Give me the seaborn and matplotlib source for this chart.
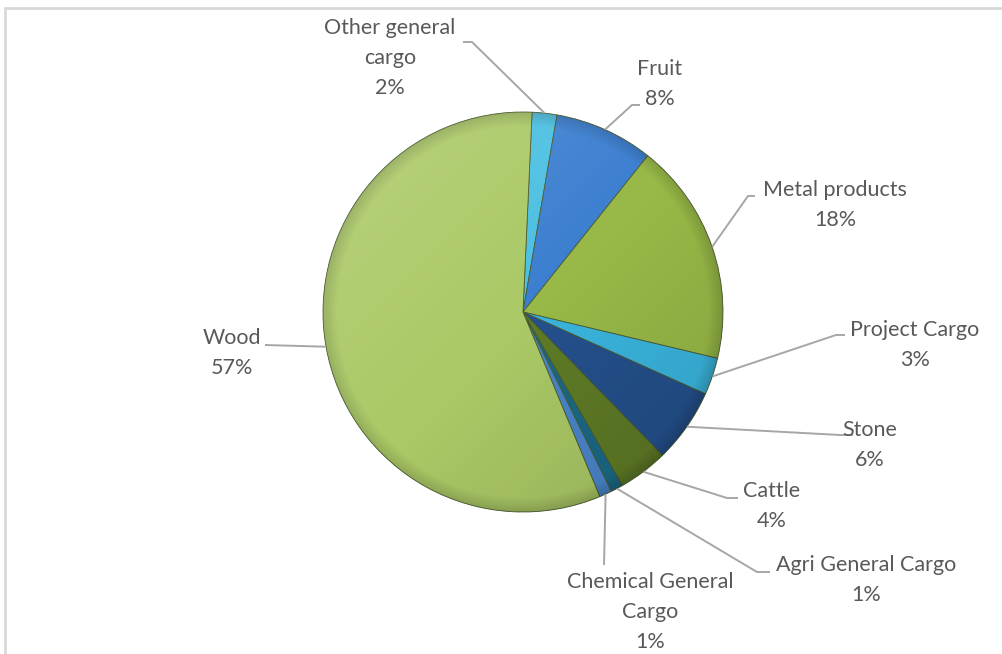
import numpy as np
import matplotlib
matplotlib.use("Agg")
import matplotlib.pyplot as plt
from matplotlib.patches import Circle
import seaborn as sns

# Cargo mix by commodity, in percent, listed clockwise from 12 o'clock
categories = ["Other general cargo", "Fruit", "Metal products", "Project Cargo", "Stone",
              "Cattle", "Agri General Cargo", "Chemical General Cargo", "Wood"]
shares = [2, 8, 18, 3, 6, 4, 1, 1, 57]
label_texts = ["Other general\ncargo", "Fruit", "Metal products", "Project Cargo", "Stone",
               "Cattle", "Agri General Cargo", "Chemical General\nCargo", "Wood"]

colors = ["#4cc0e2", "#3c7fd0", "#98b947", "#3ab5de", "#24508c",
          "#5f7b26", "#1b6a86", "#4a86cc", "#abc966"]

sns.set_theme(style="white")
plt.rcParams["font.family"] = ["Lato", "DejaVu Sans"]

W, H = 1003, 654
fig = plt.figure(figsize=(W / 100, H / 100), dpi=100)
ax = fig.add_axes([0, 0, 1, 1])

cx, cy, r = 523, H - 312, 200
start = 90 - 2.6

wedges, _ = ax.pie(shares, colors=colors, startangle=start, counterclock=False,
                   center=(cx, cy), radius=r,
                   wedgeprops=dict(edgecolor="#4a5a30", linewidth=0.6))

# soft lighting across the pie body
n = 400
yy, xx = np.mgrid[1:-1:n * 1j, -1:1:n * 1j]
t = (xx - yy) / 2.0
rr = np.hypot(xx, yy)
img = np.zeros((n, n, 4))
light = np.clip(-t, 0, 1) * 0.16
dark = np.clip(t, 0, 1) * 0.14 + np.clip((rr - 0.93) / 0.07, 0, 1) * 0.14
img[..., :3] = (light / np.maximum(light + dark, 1e-6))[..., None]
img[..., 3] = np.clip(light + dark, 0, 1)
im = ax.imshow(img, extent=(cx - r, cx + r, cy - r, cy + r), zorder=3,
               interpolation="bilinear")
im.set_clip_path(Circle((cx, cy), r, transform=ax.transData))

# label layout: text block centre, leader elbow and end (top-down pixels)
layout = {
    "Other general cargo":    dict(text=(390, 58), elbow=(472, 42), end=(463, 42)),
    "Fruit":                  dict(text=(660, 84), elbow=(632, 105), end=(640, 105)),
    "Metal products":         dict(text=(835, 205), elbow=(748, 196), end=(755, 196)),
    "Project Cargo":          dict(text=(915, 345), elbow=(836, 335), end=(845, 335)),
    "Stone":                  dict(text=(870, 445), elbow=(840, 435), end=(853, 435)),
    "Cattle":                 dict(text=(772, 506), elbow=(727, 498), end=(738, 498)),
    "Agri General Cargo":     dict(text=(866, 580), elbow=(757, 572), end=(770, 572)),
    "Chemical General Cargo": dict(text=(650, 612), elbow=(604, 565), end=(604, 565)),
    "Wood":                   dict(text=(232, 353), elbow=(265, 345), end=(265, 345)),
}

total = float(sum(shares))
cum = 0.0
line_col = "#a6a6a6"
text_col = "#595959"
for name, txt, v in zip(categories, label_texts, shares):
    mid = start - 360.0 * (cum + v / 2.0) / total
    cum += v
    a = np.deg2rad(mid)
    ax_x, ax_y = cx + r * np.cos(a), cy + r * np.sin(a)
    lay = layout[name]
    ex, ey = lay["elbow"]
    fx, fy = lay["end"]
    ax.plot([ax_x, ex, fx], [ax_y, H - ey, H - fy], color=line_col, lw=1.4,
            solid_capstyle="butt", zorder=2)
    tx, ty = lay["text"]
    ax.text(tx, H - ty, f"{txt}\n{v}%", ha="center", va="center", color=text_col,
            fontsize=15.5, linespacing=1.62, zorder=4)

# chart area frame (top and left edges)
ax.plot([5.5, W], [H - 7.5, H - 7.5], color="#d9d9d9", lw=2, zorder=1)
ax.plot([5.5, 5.5], [0, H - 7.5], color="#d9d9d9", lw=2, zorder=1)

ax.set_xlim(0, W)
ax.set_ylim(0, H)
ax.set_aspect("equal")
ax.axis("off")

fig.savefig("out.png", dpi=100, facecolor="white")
